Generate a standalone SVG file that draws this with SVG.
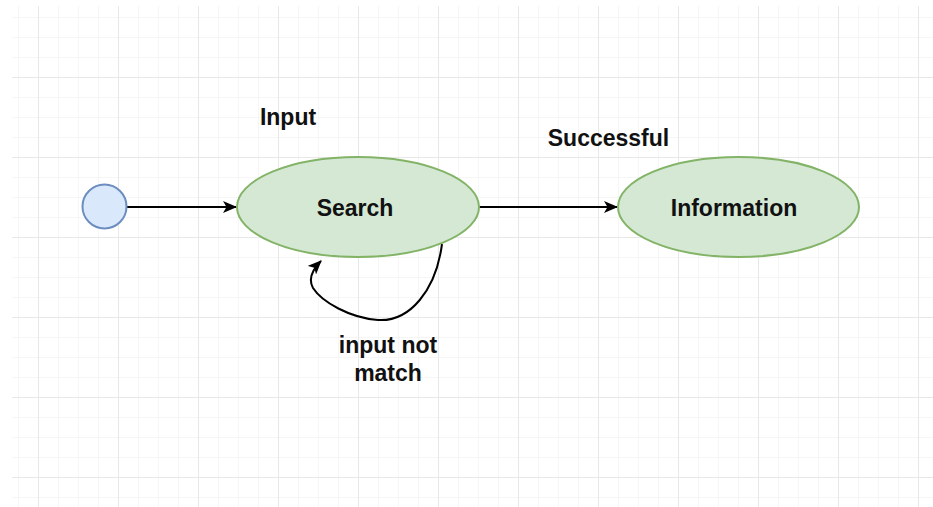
<svg xmlns="http://www.w3.org/2000/svg" width="933" height="507" viewBox="0 0 933 507">
<defs>
<pattern id="minor" x="18" y="17" width="20" height="20" patternUnits="userSpaceOnUse">
<path d="M0 0H20M0 0V20" fill="none" stroke="#f3f3f3" stroke-width="1.5"/>
</pattern>
<pattern id="major" x="38" y="77" width="80" height="80" patternUnits="userSpaceOnUse">
<path d="M0 0H80M0 0V80" fill="none" stroke="#e8e8e8" stroke-width="2"/>
</pattern>
<marker id="arrow" viewBox="0 0 14 12" refX="13" refY="6" markerWidth="14" markerHeight="12" markerUnits="userSpaceOnUse" orient="auto">
<path d="M0 0L14 6L0 12L3.5 6Z" fill="#000"/>
</marker>
<style>
.lbl{font-family:"Liberation Sans",Arial,sans-serif;font-weight:bold;font-size:23px;fill:#111;}
.state{fill:#d5e8d4;stroke:#82b366;stroke-width:2;}
.start{fill:#dae8fc;stroke:#6c8ebf;stroke-width:2;}
.edge{fill:none;stroke:#000;stroke-width:2;}
</style>
</defs>
<rect width="933" height="507" fill="#fff"/>
<rect x="12" y="6" width="921" height="501" fill="url(#minor)"/>
<rect x="12" y="6" width="921" height="501" fill="url(#major)"/>
<g id="connectors">
<path class="edge" d="M127 207H236" marker-end="url(#arrow)"/>
<path class="edge" d="M479 207H617" marker-end="url(#arrow)"/>
<path class="edge" d="M442 244C436 290 410 322 378 320C350 318 322 302 313 288C308 279 312 270 321 261" marker-end="url(#arrow)"/>
</g>
<g id="start">
<circle class="start" cx="104.5" cy="206.5" r="22"/>
</g>
<g id="search">
<ellipse class="state" cx="358" cy="207" rx="121" ry="50"/>
<text class="lbl" x="355" y="216" text-anchor="middle">Search</text>
</g>
<g id="information">
<ellipse class="state" cx="738.5" cy="207" rx="120.5" ry="50"/>
<text class="lbl" x="734" y="216" text-anchor="middle">Information</text>
</g>
<g id="labels">
<text class="lbl" x="288" y="125" text-anchor="middle">Input</text>
<text class="lbl" x="608.5" y="146" text-anchor="middle">Successful</text>
<text class="lbl" x="388" y="353" text-anchor="middle">input not</text>
<text class="lbl" x="388" y="381" text-anchor="middle">match</text>
</g>
</svg>
